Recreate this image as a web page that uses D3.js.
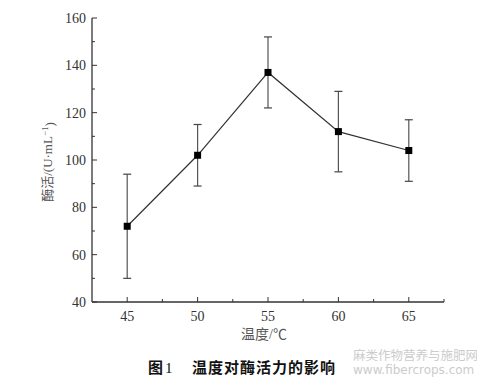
<!DOCTYPE html>
<html>
<head>
<meta charset="utf-8">
<script src="https://cdn.jsdelivr.net/npm/d3@7"></script>
<style>
  body { margin: 0; background: #fff; }
  svg { display: block; }
</style>
</head>
<body>
<div id="chart"></div>
<script>
// data
var temps = [45, 50, 55, 60, 65];
var activity = [72, 102, 137, 112, 104];
var errLow = [50, 89, 122, 95, 91];
var errHigh = [94, 115, 152, 129, 117];
var yTicks = [40, 60, 80, 100, 120, 140, 160];

var width = 477, height = 380;
var margin = { left: 92, top: 18, right: 33, bottom: 78 };

var svg = d3.select("#chart").append("svg")
    .attr("width", width)
    .attr("height", height);

var x = d3.scaleLinear()
    .domain([42.5, 67.5])
    .range([margin.left, width - margin.right]);

var y = d3.scaleLinear()
    .domain([40, 160])
    .range([height - margin.bottom, margin.top]);

var axisColor = "#333";
var serif = "'Liberation Serif', 'Times New Roman', serif";

// axis lines (left + bottom only)
svg.append("line")
    .attr("x1", x(42.5)).attr("x2", x(42.5))
    .attr("y1", y(40)).attr("y2", y(160))
    .attr("stroke", axisColor).attr("stroke-width", 1.3);
svg.append("line")
    .attr("x1", x(42.5)).attr("x2", x(67.5))
    .attr("y1", y(40)).attr("y2", y(40))
    .attr("stroke", axisColor).attr("stroke-width", 1.3);

// y ticks, pointing inward
var yMinor = d3.range(50, 160, 20);
svg.selectAll(".ytick").data(yTicks).enter().append("line")
    .attr("x1", x(42.5)).attr("x2", x(42.5) + 5)
    .attr("y1", function (d) { return y(d); })
    .attr("y2", function (d) { return y(d); })
    .attr("stroke", axisColor);
svg.selectAll(".yminor").data(yMinor).enter().append("line")
    .attr("x1", x(42.5)).attr("x2", x(42.5) + 3)
    .attr("y1", function (d) { return y(d); })
    .attr("y2", function (d) { return y(d); })
    .attr("stroke", axisColor);
svg.selectAll(".ylab").data(yTicks).enter().append("text")
    .attr("x", x(42.5) - 6)
    .attr("y", function (d) { return y(d); })
    .attr("dy", "0.35em")
    .attr("text-anchor", "end")
    .style("font-family", serif)
    .style("font-size", "14px")
    .style("fill", "#333")
    .text(function (d) { return d; });

// x ticks
var xMinor = [47.5, 52.5, 57.5, 62.5, 67.5];
svg.selectAll(".xtick").data(temps).enter().append("line")
    .attr("x1", function (d) { return x(d); })
    .attr("x2", function (d) { return x(d); })
    .attr("y1", y(40)).attr("y2", y(40) - 5)
    .attr("stroke", axisColor);
svg.selectAll(".xminor").data(xMinor).enter().append("line")
    .attr("x1", function (d) { return x(d); })
    .attr("x2", function (d) { return x(d); })
    .attr("y1", y(40)).attr("y2", y(40) - 3)
    .attr("stroke", axisColor);
svg.selectAll(".xlab").data(temps).enter().append("text")
    .attr("x", function (d) { return x(d); })
    .attr("y", y(40) + 19)
    .attr("text-anchor", "middle")
    .style("font-family", serif)
    .style("font-size", "14px")
    .style("fill", "#333")
    .text(function (d) { return d; });

// axis titles
svg.append("text")
    .attr("x", 264)
    .attr("y", 339)
    .attr("text-anchor", "middle")
    .style("font-family", serif + ", 'Noto Sans CJK SC'")
    .style("font-size", "14px")
    .style("fill", "#555")
    .text("温度/℃");

var ylab = svg.append("text")
    .attr("transform", "translate(52," + 162 + ") rotate(-90)")
    .attr("text-anchor", "middle")
    .style("font-family", serif + ", 'Noto Sans CJK SC'")
    .style("font-size", "13px")
    .style("fill", "#555");
ylab.append("tspan").text("酶活/(U·mL");
ylab.append("tspan").attr("dy", "-0.45em").style("font-size", "9px").text("−1");
ylab.append("tspan").attr("dy", "0.45em").text(")");

// error bars
var cap = 4;
var bars = svg.selectAll(".err").data(temps).enter().append("g");
bars.append("line")
    .attr("x1", function (d) { return x(d); })
    .attr("x2", function (d) { return x(d); })
    .attr("y1", function (d, i) { return y(errLow[i]); })
    .attr("y2", function (d, i) { return y(errHigh[i]); })
    .attr("stroke", "#555").attr("stroke-width", 1.2);
bars.append("line")
    .attr("x1", function (d) { return x(d) - cap; })
    .attr("x2", function (d) { return x(d) + cap; })
    .attr("y1", function (d, i) { return y(errHigh[i]); })
    .attr("y2", function (d, i) { return y(errHigh[i]); })
    .attr("stroke", "#444").attr("stroke-width", 1.2);
bars.append("line")
    .attr("x1", function (d) { return x(d) - cap; })
    .attr("x2", function (d) { return x(d) + cap; })
    .attr("y1", function (d, i) { return y(errLow[i]); })
    .attr("y2", function (d, i) { return y(errLow[i]); })
    .attr("stroke", "#444").attr("stroke-width", 1.2);

// line
var line = d3.line()
    .x(function (d, i) { return x(temps[i]); })
    .y(function (d) { return y(d); });
svg.append("path")
    .datum(activity)
    .attr("d", line)
    .attr("fill", "none")
    .attr("stroke", "#333")
    .attr("stroke-width", 1.2);

// markers
var size = 7;
svg.selectAll(".pt").data(activity).enter().append("rect")
    .attr("x", function (d, i) { return x(temps[i]) - size / 2; })
    .attr("y", function (d) { return y(d) - size / 2; })
    .attr("width", size)
    .attr("height", size)
    .attr("fill", "#000");

// caption
var cap1 = svg.append("text")
    .attr("y", 373)
    .style("font-size", "15px")
    .style("font-weight", "bold")
    .style("fill", "#111");
cap1.append("tspan").attr("x", 148)
    .style("font-family", "'Noto Sans CJK SC'").text("图");
cap1.append("tspan").attr("x", 165)
    .style("font-family", serif).style("font-weight", "normal").text("1");
cap1.append("tspan").attr("x", 192)
    .style("font-family", "'Noto Sans CJK SC'")
    .style("letter-spacing", "1px")
    .text("温度对酶活力的影响");

// watermark
svg.append("text")
    .attr("x", 353).attr("y", 360)
    .style("font-family", "'Noto Sans CJK SC', sans-serif")
    .style("font-size", "12.5px")
    .style("fill", "#ccc")
    .text("麻类作物营养与施肥网");
svg.append("text")
    .attr("x", 353).attr("y", 374)
    .style("font-family", "'DejaVu Sans', sans-serif")
    .style("font-size", "12px")
    .style("fill", "#ccc")
    .text("www.fibercrops.com");
</script>
</body>
</html>
